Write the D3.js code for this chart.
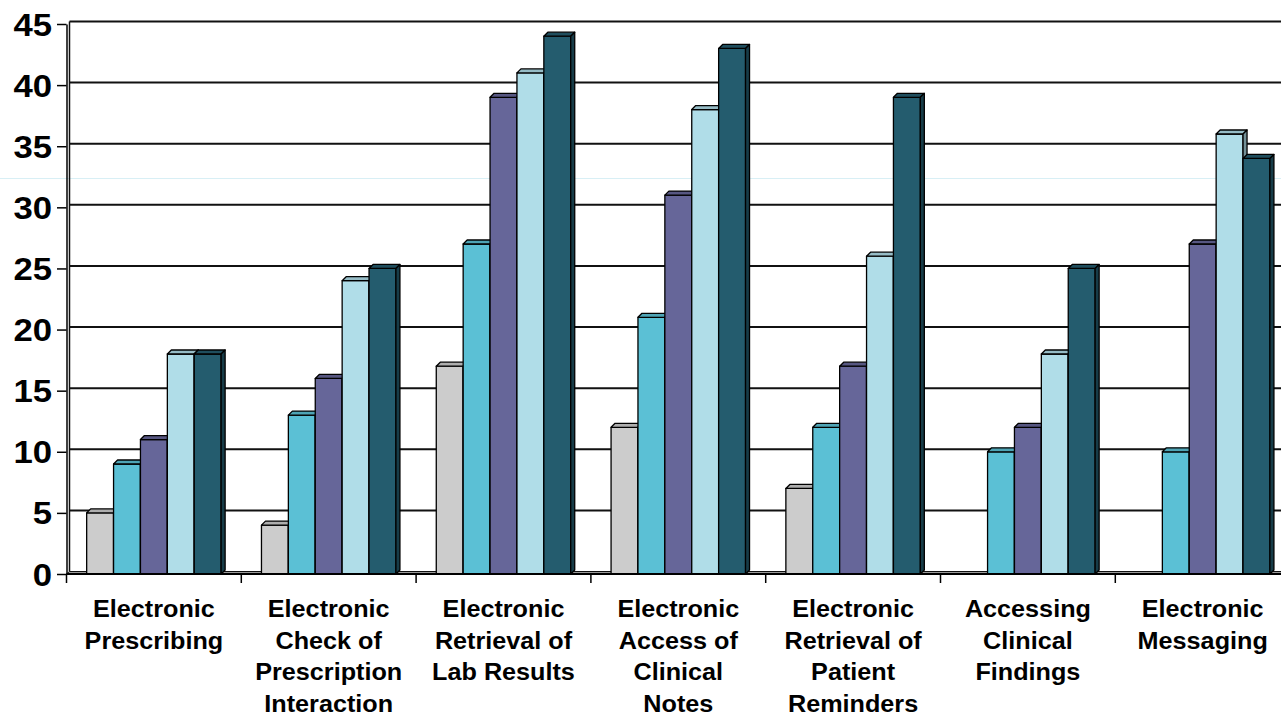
<!DOCTYPE html>
<html>
<head>
<meta charset="utf-8">
<script src="https://cdn.jsdelivr.net/npm/d3@7"></script>
<style>
  html, body { margin: 0; padding: 0; background: #fff; }
  svg { display: block; }
  text { font-family: "Liberation Sans", Arial, Helvetica, sans-serif; font-weight: bold; fill: #000; }
</style>
</head>
<body>
<svg id="chart" width="1281" height="721"></svg>
<script>
// Categories (with their wrapped label lines)
const categories = [
  "Electronic Prescribing",
  "Electronic Check of Prescription Interaction",
  "Electronic Retrieval of Lab Results",
  "Electronic Access of Clinical Notes",
  "Electronic Retrieval of Patient Reminders",
  "Accessing Clinical Findings",
  "Electronic Messaging"
];
const categoryLines = [
  ["Electronic", "Prescribing"],
  ["Electronic", "Check of", "Prescription", "Interaction"],
  ["Electronic", "Retrieval of", "Lab Results"],
  ["Electronic", "Access of", "Clinical", "Notes"],
  ["Electronic", "Retrieval of", "Patient", "Reminders"],
  ["Accessing", "Clinical", "Findings"],
  ["Electronic", "Messaging"]
];

// Series values, one array per series
const series1 = [5, 4, 17, 12, 7, 0, 0];
const series2 = [9, 13, 27, 21, 12, 10, 10];
const series3 = [11, 16, 39, 31, 17, 12, 27];
const series4 = [18, 24, 41, 38, 26, 18, 36];
const series5 = [18, 25, 44, 43, 39, 25, 34];

const seriesColors = ["#cccccc", "#5bc0d5", "#666699", "#b0dde8", "#245c6e"];

// Y axis ticks
const yTicks = [0, 5, 10, 15, 20, 25, 30, 35, 40, 45];

const allSeries = [series1, series2, series3, series4, series5];

const svg = d3.select("#chart");

const plotLeft = 66.5;
const bandW = 174.8;
const y = d3.scaleLinear().domain([0, 45]).range([574, 24]);
const x = d3.scaleBand()
  .domain(categories)
  .range([plotLeft, plotLeft + bandW * categories.length]);
const xInner = d3.scaleBand()
  .domain(d3.range(allSeries.length))
  .range([0, x.bandwidth()])
  .paddingOuter(0.75)
  .paddingInner(0);

// 3D offsets: back wall and bar depth
const wallDx = 3, wallDy = -2.5;
const barDx = 4, barDy = -4;

// faint horizontal rule across the page
svg.append("line")
  .attr("x1", 0).attr("x2", 1281)
  .attr("y1", 178.5).attr("y2", 178.5)
  .attr("stroke", "#d8eff5").attr("stroke-width", 1);

// back wall gridlines
svg.append("g").selectAll("line")
  .data(yTicks.filter(v => v > 0))
  .join("line")
  .attr("x1", plotLeft + wallDx)
  .attr("x2", 1290)
  .attr("y1", d => y(d) + wallDy)
  .attr("y2", d => y(d) + wallDy)
  .attr("stroke", "#111")
  .attr("stroke-width", 2);

// back wall left edge
svg.append("line")
  .attr("x1", plotLeft + wallDx).attr("x2", plotLeft + wallDx)
  .attr("y1", y(0) + wallDy).attr("y2", y(45) + wallDy)
  .attr("stroke", "#111").attr("stroke-width", 1.5);

// floor strip
const xEnd = plotLeft + bandW * categories.length + 10;
svg.append("path")
  .attr("d", `M${plotLeft},${y(0)} L${plotLeft + wallDx},${y(0) + wallDy} L${xEnd + wallDx},${y(0) + wallDy} L${xEnd},${y(0)} Z`)
  .attr("fill", "#9a9a9a")
  .attr("stroke", "#111")
  .attr("stroke-width", 1);

// bars (zero values have no visible extent)
const barG = svg.append("g");
categories.forEach((cat, ci) => {
  allSeries.forEach((vals, si) => {
    const v = vals[ci];
    if (v <= 0) return;
    const x0 = x(cat) + xInner(si);
    const x1 = x0 + xInner.bandwidth();
    const yt = y(v), yb = y(0);
    const base = d3.color(seriesColors[si]);
    const g = barG.append("g")
      .attr("stroke", "#000")
      .attr("stroke-width", 1.3)
      .attr("stroke-linejoin", "round");
    // front face
    g.append("rect")
      .attr("x", x0).attr("y", yt)
      .attr("width", x1 - x0).attr("height", yb - yt)
      .attr("fill", base.formatHex());
    // top face
    g.append("path")
      .attr("d", `M${x0},${yt} L${x0 + barDx},${yt + barDy} L${x1 + barDx},${yt + barDy} L${x1},${yt} Z`)
      .attr("fill", base.darker(0.45).formatHex());
    // side face
    g.append("path")
      .attr("d", `M${x1},${yt} L${x1 + barDx},${yt + barDy} L${x1 + barDx},${yb + barDy} L${x1},${yb} Z`)
      .attr("fill", base.darker(1.2).formatHex());
  });
});

// front baseline
svg.append("line")
  .attr("x1", plotLeft).attr("x2", 1290)
  .attr("y1", y(0)).attr("y2", y(0))
  .attr("stroke", "#000").attr("stroke-width", 2);

// Y axis
const yAxis = svg.append("g")
  .attr("transform", `translate(${plotLeft},0)`)
  .call(d3.axisLeft(y).tickValues(yTicks).tickSize(9.5).tickSizeOuter(0).tickPadding(0));
yAxis.select(".domain").attr("stroke", "#000").attr("stroke-width", 1.5);
yAxis.selectAll(".tick line").attr("stroke", "#000").attr("stroke-width", 1.5);
const sx = 1.12;
yAxis.selectAll(".tick text")
  .attr("x", null).attr("dy", null)
  .attr("text-anchor", "end")
  .attr("transform", `translate(-14.5,11) scale(${sx},1)`)
  .style("font-size", "31px")
  .style("font-family", "'Liberation Sans', Arial, sans-serif")
  .style("font-weight", "bold")
  .attr("fill", "#000");

// X axis category boundary ticks
const boundaries = categories.map(c => x(c)).concat([x.range()[1]]);
svg.append("g").selectAll("line")
  .data(boundaries)
  .join("line")
  .attr("x1", d => d).attr("x2", d => d)
  .attr("y1", y(0)).attr("y2", y(0) + 9)
  .attr("stroke", "#000").attr("stroke-width", 1.5);

// category labels
const labG = svg.append("g");
categories.forEach((cat, ci) => {
  const cx = x(cat) + x.bandwidth() / 2;
  categoryLines[ci].forEach((line, li) => {
    labG.append("text")
      .attr("text-anchor", "middle")
      .attr("transform", `translate(${cx},${617 + li * 31.7}) scale(1.05,1)`)
      .style("font-size", "24px")
      .text(line);
  });
});
</script>
</body>
</html>
